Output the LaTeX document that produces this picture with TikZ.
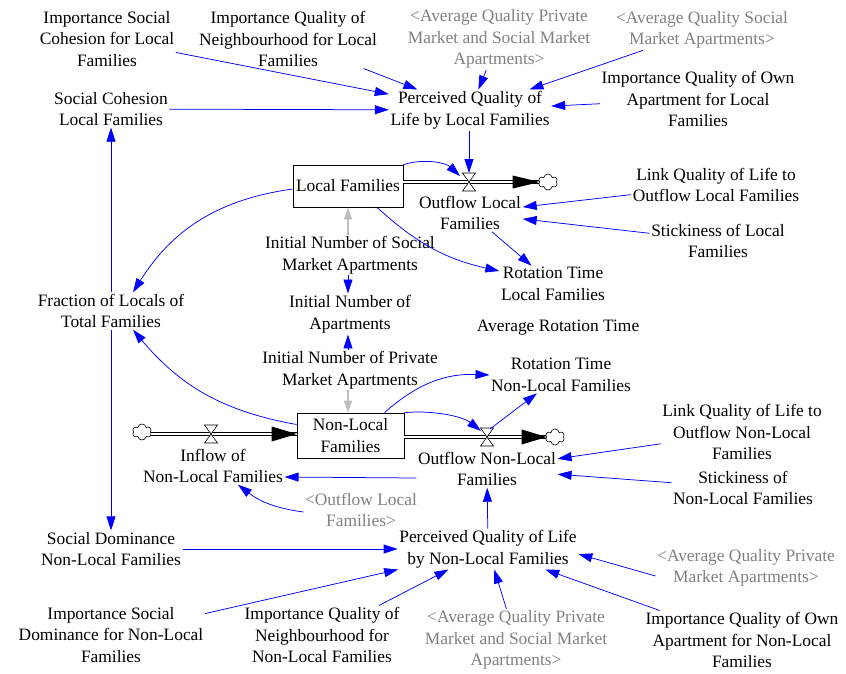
\documentclass[tikz,border=0pt]{standalone}
\usepackage{fontspec}
\setmainfont{Liberation Serif}
\usetikzlibrary{arrows.meta,shapes.symbols}
\definecolor{vblue}{RGB}{0,0,255}
\definecolor{vgray}{RGB}{128,128,128}
\definecolor{lgray}{RGB}{190,190,190}
\begin{document}
\begin{tikzpicture}[x=1pt,y=-1pt,
  every node/.style={font=\fontsize{17.4}{21.6}\selectfont},
  var/.style={align=center, inner sep=1.5pt},
  ghost/.style={var, text=vgray},
  stock/.style={draw, line width=0.7pt, align=center, inner sep=1pt},
  link/.style={draw=vblue, line width=0.75pt, -{Triangle[length=14pt,width=9pt]}},
  glink/.style={draw=lgray, line width=1.2pt, -{Triangle[length=12pt,width=8pt]}},
  pipe/.style={draw=black, double=white, double distance=2.6pt, line width=0.7pt},
  cloudn/.style={cloud, cloud puffs=6, cloud puff arc=160, aspect=1.15, draw, fill=white, minimum width=19pt, minimum height=16pt, inner sep=0pt, line width=0.6pt},
  valve/.pic={\draw[fill=white,line width=0.6pt] (-6.5,-9)--(6.5,-9)--(-6.5,9)--(6.5,9)--cycle;}
]
\useasboundingbox (0,0) rectangle (846,673);

% ---- variables ----
\node[var] (iscl) at (107,39) {Importance Social\\Cohesion for Local\\Families};
\node[var] (iqnl) at (288,39) {Importance Quality of\\Neighbourhood for Local\\Families};
\node[ghost] (aqpsm1) at (499,39) {<Average Quality Private\\Market and Social Market\\Apartments>};
\node[ghost] (aqsm) at (702,30) {<Average Quality Social\\Market Apartments>};
\node[var] (iqol) at (698,99) {Importance Quality of Own\\Apartment for Local\\Families};
\node[var] (pql) at (470,110) {Perceived Quality of\\Life by Local Families};
\node[var] (scl) at (111,109) {Social Cohesion\\Local Families};
\node[stock, minimum width=110pt, minimum height=42pt] (lf) at (348,186) {Local Families};
\node[var] (ofl) at (470,213) {Outflow Local\\Families};
\node[var] (lqll) at (716,185) {Link Quality of Life to\\Outflow Local Families};
\node[var] (stl) at (718,241) {Stickiness of Local\\Families};
\node[var] (insm) at (350,255) {Initial Number of Social\\Market Apartments};
\node[var] (rtl) at (553,284) {Rotation Time\\Local Families};
\node[var] (frac) at (111,311) {Fraction of Locals of\\Total Families};
\node[var] (ina) at (350,314) {Initial Number of\\Apartments};
\node[var] (art) at (558,328) {Average Rotation Time};
\node[var] (inpm) at (350,370) {Initial Number of Private\\Market Apartments};
\node[var] (rtnl) at (561,375) {Rotation Time\\Non-Local Families};
\node[stock, minimum width=107pt, minimum height=45pt] (nlf) at (350.5,435.5) {Non-Local\\Families};
\node[var] (infl) at (213,466) {Inflow of\\Non-Local Families};
\node[var] (ofnl) at (487,469) {Outflow Non-Local\\Families};
\node[var] (lqlnl) at (742,432) {Link Quality of Life to\\Outflow Non-Local\\Families};
\node[var] (stnl) at (743,488) {Stickiness of\\Non-Local Families};
\node[ghost] (ofl2) at (361,510) {<Outflow Local\\Families>};
\node[var] (sdnl) at (111,549) {Social Dominance\\Non-Local Families};
\node[var] (pqnl) at (488,549) {Perceived Quality of Life\\by Non-Local Families};
\node[ghost] (aqpm) at (746,568) {<Average Quality Private\\Market Apartments>};
\node[var] (isdnl) at (111,635) {Importance Social\\Dominance for Non-Local\\Families};
\node[var] (iqnnl) at (322,635) {Importance Quality of\\Neighbourhood for\\Non-Local Families};
\node[ghost] (aqpsm2) at (516,640) {<Average Quality Private\\Market and Social Market\\Apartments>};
\node[var] (iqonl) at (742,640) {Importance Quality of Own\\Apartment for Non-Local\\Families};

% ---- flows ----
\coordinate (vL) at (469,182);
\coordinate (vLt) at (469,173);
\coordinate (vLin) at (460,176);
\node[cloudn] (cL) at (548,182) {};
\coordinate (vN) at (487,437);
\coordinate (vNin) at (481,431);
\coordinate (vNo) at (490,429);
\node[cloudn] (cN) at (555,437) {};
\coordinate (vI) at (211,434);
\node[cloudn] (cI) at (142,432) {};

\draw[pipe] (lf.east |- vL) -- (cL.west |- vL);
\fill ([xshift=0.5pt]cL.west |- vL) -- ++(-27,-6.5) -- ++(0,13) -- cycle;
\pic at (vL) {valve};

\draw[pipe] (nlf.east |- vN) -- (cN.west |- vN);
\fill ([xshift=0.5pt]cN.west |- vN) -- ++(-25,-7.5) -- ++(0,15) -- cycle;
\pic at (vN) {valve};

\draw[pipe] (cI.east |- vI) -- (nlf.west |- vI);
\fill (nlf.west |- vI) -- ++(-25,-7.5) -- ++(0,15) -- cycle;
\pic at (vI) {valve};

% ---- links: local families part ----
\draw[link] (iscl) -- (pql);
\draw[link] (iqnl) -- (pql);
\draw[link] (aqpsm1) -- (pql);
\draw[link] (aqsm) -- (pql);
\draw[link] (iqol) -- (pql);
\draw[link] (scl) -- (pql);
\draw[link] (pql.south -| vLt) -- (vLt);
\draw[link] (lf.north east) .. controls (425,158) and (446,163) .. (vLin);
\draw[link] (lqll) -- (ofl);
\draw[link] (stl) -- (ofl);
\draw[link] (ofl) -- (rtl);
\draw[link] ([xshift=29pt]lf.south) to[bend right=15] ([yshift=13pt]rtl.west);
\draw[link] ([yshift=-3pt]lf.west) to[bend right=25] ([xshift=22pt]frac.north);
\draw[glink] (insm.north -| lf.south) -- (lf.south);
\draw[link] (insm.south -| lf.south) -- (ina.north -| lf.south);
\draw[link] (inpm.north -| lf.south) -- (ina.south -| lf.south);
\draw[glink] (inpm.south -| lf.south) -- (nlf.north -| lf.south);
\draw[link] (frac) -- (scl);
\draw[link] (frac) -- (sdnl);

% ---- links: non-local families part ----
\draw[link] ([yshift=11pt]nlf.west) to[bend left=20] ([xshift=22pt]frac.south);
\draw[link] ([xshift=34pt]nlf.north) to[bend left=22] (rtnl.west);
\draw[link] (nlf.north east) .. controls (432,410) and (462,416) .. (vNin);
\draw[link] (vNo) -- (rtnl);
\draw[link] (lqlnl) -- (ofnl);
\draw[link] (stnl) -- (ofnl);
\draw[link] ([yshift=-9pt]ofnl.west) -- ([yshift=-11pt]infl.east);
\draw[link] ([yshift=-2pt]ofl2.west) to[bend left=15] ([xshift=25pt]infl.south);
\draw[link] (pqnl) -- (ofnl);
\draw[link] (sdnl) -- (pqnl);
\draw[link] (isdnl) -- (pqnl);
\draw[link] (iqnnl) -- (pqnl);
\draw[link] (aqpsm2) -- (pqnl);
\draw[link] (iqonl) -- (pqnl);
\draw[link] ([yshift=-8pt]aqpm.west) -- ([yshift=-5pt]pqnl.east);
\end{tikzpicture}
\end{document}
